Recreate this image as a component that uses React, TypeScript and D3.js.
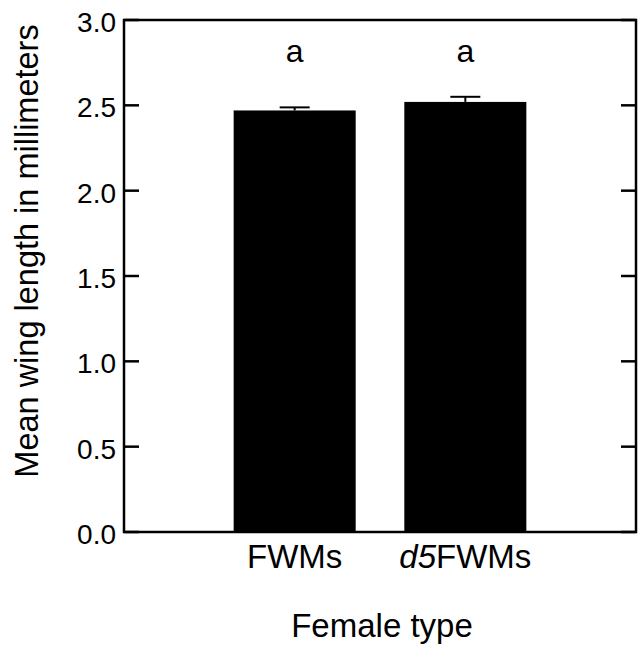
import { useEffect, useRef } from 'react';
import * as d3 from 'd3';

// values
const categories = ['FWMs', 'd5FWMs'];
const means = [2.47, 2.52];
const errors = [0.018, 0.03];
const letters = ['a', 'a'];
const yTicks = [0, 0.5, 1.0, 1.5, 2.0, 2.5, 3.0];

const W = 638;
const H = 646;
const margin = { top: 20, right: 2, bottom: 114, left: 124 };
const FONT = '"Liberation Sans", Arial, Helvetica, sans-serif';

export default function App() {
  const svgRef = useRef<SVGSVGElement>(null);

  useEffect(() => {
    if (!svgRef.current) return;
    const svg = d3.select(svgRef.current);
    svg.selectAll('*').remove();

    const x0 = margin.left;
    const x1 = W - margin.right;
    const y0 = H - margin.bottom;
    const y1 = margin.top;

    const x = d3.scaleBand<string>()
      .domain(categories)
      .range([x0, x1])
      .paddingInner(0.285)
      .paddingOuter(0.6425);

    const y = d3.scaleLinear().domain([0, 3]).range([y0, y1]);

    const g = svg.append('g');

    // bars
    g.selectAll('.bar')
      .data(categories)
      .join('rect')
      .attr('class', 'bar')
      .attr('x', d => x(d)!)
      .attr('width', x.bandwidth())
      .attr('y', (d, i) => y(means[i]))
      .attr('height', (d, i) => y(0) - y(means[i]))
      .attr('fill', '#000');

    // error bars (upper half visible)
    categories.forEach((c, i) => {
      const cx = x(c)! + x.bandwidth() / 2;
      g.append('line')
        .attr('x1', cx).attr('x2', cx)
        .attr('y1', y(means[i])).attr('y2', y(means[i] + errors[i]))
        .attr('stroke', '#000').attr('stroke-width', 2);
      g.append('line')
        .attr('x1', cx - 15).attr('x2', cx + 15)
        .attr('y1', y(means[i] + errors[i])).attr('y2', y(means[i] + errors[i]))
        .attr('stroke', '#000').attr('stroke-width', 2);
      g.append('text')
        .attr('x', cx)
        .attr('y', 62)
        .attr('text-anchor', 'middle')
        .attr('font-family', FONT)
        .attr('font-size', 32)
        .attr('fill', '#000')
        .text(letters[i]);
    });

    // frame
    g.append('rect')
      .attr('x', x0).attr('y', y1)
      .attr('width', x1 - x0).attr('height', y0 - y1)
      .attr('fill', 'none')
      .attr('stroke', '#000')
      .attr('stroke-width', 2.5);

    // inward ticks on both sides
    g.selectAll('.tl')
      .data(yTicks)
      .join('line')
      .attr('x1', x0).attr('x2', x0 + 15)
      .attr('y1', d => y(d)).attr('y2', d => y(d))
      .attr('stroke', '#000').attr('stroke-width', 2.5);
    g.selectAll('.tr')
      .data(yTicks)
      .join('line')
      .attr('x1', x1 - 15).attr('x2', x1)
      .attr('y1', d => y(d)).attr('y2', d => y(d))
      .attr('stroke', '#000').attr('stroke-width', 2.5);

    // tick labels
    g.selectAll('.yl')
      .data(yTicks)
      .join('text')
      .attr('x', x0 - 8)
      .attr('y', d => y(d) + 12)
      .attr('text-anchor', 'end')
      .attr('font-family', FONT)
      .attr('font-size', 28)
      .attr('fill', '#000')
      .text(d => d3.format('.1f')(d));

    // category labels
    const cat = g.selectAll('.xl')
      .data(categories)
      .join('text')
      .attr('x', d => x(d)! + x.bandwidth() / 2)
      .attr('y', 568)
      .attr('text-anchor', 'middle')
      .attr('font-family', FONT)
      .attr('font-size', 33)
      .attr('fill', '#000');
    cat.each(function (d) {
      const t = d3.select(this);
      if (d.startsWith('d5')) {
        t.append('tspan').attr('font-style', 'italic').text('d5');
        t.append('tspan').text(d.slice(2));
      } else {
        t.text(d);
      }
    });

    // axis titles
    g.append('text')
      .attr('x', (x0 + x1) / 2 + 2)
      .attr('y', 637)
      .attr('text-anchor', 'middle')
      .attr('font-family', FONT)
      .attr('font-size', 33)
      .attr('fill', '#000')
      .text('Female type');

    g.append('text')
      .attr('transform', `translate(38,${(y0 + y1) / 2 - 25}) rotate(-90)`)
      .attr('text-anchor', 'middle')
      .attr('font-family', FONT)
      .attr('font-size', 32.5)
      .attr('fill', '#000')
      .text('Mean wing length in millimeters');
  }, []);

  return (
    <div style={{ position: 'absolute', left: 0, top: 0, background: '#fff' }}>
      <svg ref={svgRef} width={W} height={H} style={{ display: 'block' }} />
    </div>
  );
}
